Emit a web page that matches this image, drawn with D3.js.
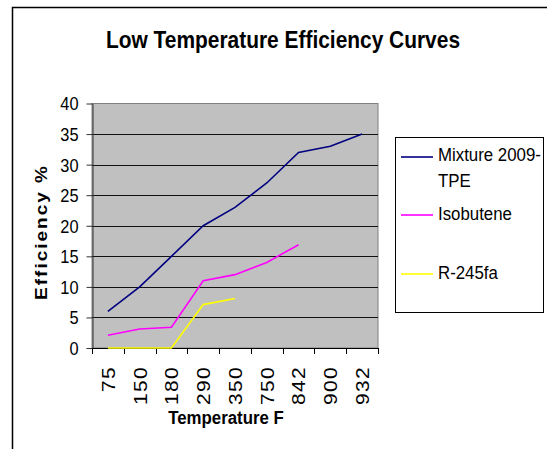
<!DOCTYPE html>
<meta charset="utf-8">
<style>
    body { margin: 0; background: #fff; }
    svg text { font-family: Arial, "Liberation Sans", sans-serif; fill: #000; }
</style>
<svg width="547" height="449"></svg>
<script src="https://cdn.jsdelivr.net/npm/d3@7"></script>
<script>
    // chart data
    var temps = ["75", "150", "180", "290", "350", "750", "842", "900", "932"];
    var mixture = [6, 10, 15, 20, 23, 27, 32, 33, 35];
    var isobutene = [2.1, 3.1, 3.4, 11, 12, 14, 16.9, null, null];
    var r245fa = [0, 0, 0, 7.1, 8.1, null, null, null, null];
    var seriesNames = ["Mixture 2009-TPE", "Isobutene", "R-245fa"];
    var yTicks = [0, 5, 10, 15, 20, 25, 30, 35, 40];

    var squeeze = 0.91; // text in the picture is a bit narrow

    var svg = d3.select("svg");

    // outer chart border
    svg.append("rect")
            .attr("x", 12.5).attr("y", 7.5)
            .attr("width", 600).attr("height", 500)
            .attr("fill", "none").attr("stroke", "#000").attr("stroke-width", 1.5);

    var plot = {left: 92, top: 103.5, right: 378, bottom: 348};

    var x = d3.scaleBand().domain(temps).range([plot.left, plot.right]).padding(0);
    var y = d3.scaleLinear().domain([0, 40]).range([plot.bottom, plot.top]);

    svg.append("rect")
            .attr("x", plot.left).attr("y", plot.top)
            .attr("width", plot.right - plot.left).attr("height", plot.bottom - plot.top)
            .attr("fill", "#c0c0c0").attr("stroke", "#808080").attr("stroke-width", 1);

    // gridlines
    svg.append("g")
            .selectAll("line")
            .data(yTicks.filter(function (d) { return d > 0 && d < 40; }))
            .enter().append("line")
            .attr("x1", plot.left).attr("x2", plot.right)
            .attr("y1", function (d) { return Math.round(y(d)) + 0.5; })
            .attr("y2", function (d) { return Math.round(y(d)) + 0.5; })
            .attr("stroke", "#111").attr("stroke-width", 1);

    // y axis
    var yAxis = svg.append("g")
            .attr("transform", "translate(" + (plot.left + 0.5) + ",0)")
            .call(d3.axisLeft(y).tickValues(yTicks).tickSize(6).tickSizeOuter(0));
    yAxis.select(".domain").attr("stroke", "#333");
    yAxis.selectAll(".tick line").attr("stroke", "#333");
    yAxis.selectAll(".tick text")
            .style("font-size", "18px")
            .style("font-family", "Arial, 'Liberation Sans', sans-serif")
            .attr("x", -14 / squeeze)
            .attr("dy", "0.36em")
            .attr("transform", "scale(" + squeeze + ",1)");

    // x axis line + ticks at category edges
    svg.append("line")
            .attr("x1", plot.left).attr("x2", plot.right)
            .attr("y1", plot.bottom + 0.5).attr("y2", plot.bottom + 0.5)
            .attr("stroke", "#000").attr("stroke-width", 1.2);
    var edges = temps.map(function (d) { return x(d); }).concat([x.range()[1]]);
    svg.append("g")
            .selectAll("line")
            .data(edges)
            .enter().append("line")
            .attr("x1", function (d) { return Math.round(d) + 0.5; })
            .attr("x2", function (d) { return Math.round(d) + 0.5; })
            .attr("y1", plot.bottom).attr("y2", plot.bottom + 6)
            .attr("stroke", "#000");

    // x tick labels, rotated
    svg.append("g")
            .selectAll("text")
            .data(temps)
            .enter().append("text")
            .attr("transform", function (d) {
                return "translate(" + (x(d) + x.bandwidth() / 2) + "," + (plot.bottom + 18) + ") rotate(-90) scale(1," + squeeze + ")";
            })
            .attr("text-anchor", "end")
            .attr("dy", "0.36em")
            .style("font-size", "21px")
            .attr("letter-spacing", 1.3)
            .text(function (d) { return d; });

    // series lines
    var seriesData = [mixture, isobutene, r245fa];
    var colors = ["#000080", "#ff00ff", "#ffff00"];

    var line = d3.line()
            .defined(function (d) { return d.v != null; })
            .x(function (d) { return x(d.t) + x.bandwidth() / 2; })
            .y(function (d) { return y(d.v); });

    svg.append("g")
            .selectAll("path")
            .data(seriesData)
            .enter().append("path")
            .attr("fill", "none")
            .attr("stroke", function (d, i) { return colors[i]; })
            .attr("stroke-width", 1.6)
            .attr("d", function (vals) {
                return line(vals.map(function (v, i) { return {t: temps[i], v: v}; }));
            });

    // titles
    svg.append("text")
            .attr("transform", "translate(283,48) scale(" + squeeze + ",1)")
            .attr("text-anchor", "middle")
            .style("font-size", "23px").attr("font-weight", "bold")
            .text("Low Temperature Efficiency Curves");

    svg.append("text")
            .attr("transform", "translate(226,424) scale(" + squeeze + ",1)")
            .attr("text-anchor", "middle")
            .style("font-size", "18.5px").attr("font-weight", "bold")
            .text("Temperature F");

    svg.append("text")
            .attr("transform", "translate(47,232) rotate(-90) scale(1," + squeeze + ")")
            .attr("text-anchor", "middle")
            .style("font-size", "19px").attr("font-weight", "bold")
            .attr("letter-spacing", 2)
            .text("Efficiency %");

    // legend
    svg.append("rect")
            .attr("x", 395.5).attr("y", 137.5)
            .attr("width", 148).attr("height", 175)
            .attr("fill", "#fff").attr("stroke", "#000").attr("stroke-width", 1);

    var legendRows = [
        {lineY: 157, lines: ["Mixture 2009-", "TPE"], baseY: 161},
        {lineY: 215, lines: ["Isobutene"], baseY: 220},
        {lineY: 274, lines: ["R-245fa"], baseY: 279}
    ];

    var leg = svg.append("g")
            .selectAll("g")
            .data(legendRows)
            .enter().append("g");

    leg.append("line")
            .attr("x1", 401).attr("x2", 433)
            .attr("y1", function (d) { return d.lineY; })
            .attr("y2", function (d) { return d.lineY; })
            .attr("stroke", function (d, i) { return colors[i]; })
            .attr("stroke-width", 1.6);

    leg.each(function (d, i) {
        var g = d3.select(this);
        d.lines.forEach(function (t, k) {
            g.append("text")
                    .attr("transform", "translate(438," + (d.baseY + k * 26) + ") scale(" + squeeze + ",1)")
                    .style("font-size", "18.5px")
                    .text(t);
        });
    });
</script>
